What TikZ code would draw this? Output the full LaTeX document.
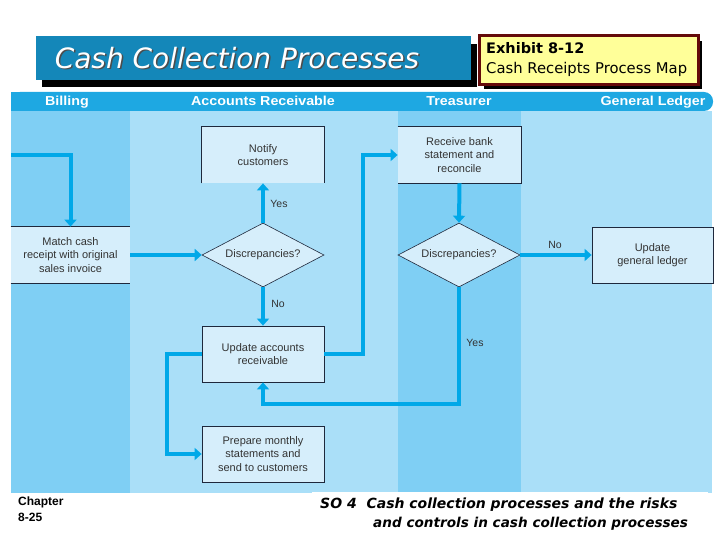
\documentclass[tikz,border=0pt]{standalone}
\usepackage{fontspec}
\setmainfont{Liberation Sans}
\newfontfamily\comicfont{DejaVu Sans}
\usetikzlibrary{shapes.geometric,arrows.meta}
\definecolor{titleblue}{RGB}{20,135,185}
\definecolor{headerblue}{RGB}{30,168,226}
\definecolor{lanedark}{RGB}{127,207,244}
\definecolor{lanelight}{RGB}{170,223,248}
\definecolor{boxfill}{RGB}{214,238,251}
\definecolor{flowblue}{RGB}{0,168,232}
\definecolor{exfill}{RGB}{255,255,153}
\definecolor{exborder}{RGB}{100,10,10}
\definecolor{boxline}{RGB}{30,40,60}
\tikzset{
  procbox/.style={rectangle, fill=boxfill, draw=boxline, line width=0.8pt,
    minimum width=122pt, minimum height=56pt, inner sep=0pt, align=center,
    font=\fontsize{11}{13.5}\selectfont, text=black!80},
  decbox/.style={diamond, fill=boxfill, draw=boxline, line width=0.6pt, aspect=2,
    minimum width=122pt, minimum height=64pt, inner sep=0pt,
    font=\fontsize{11}{13.5}\selectfont, text=black!80},
  boxedge/.style={boxline, line width=0.8pt},
  flow/.style={draw=flowblue, line width=4pt, -{Triangle[width=12pt,length=7pt]}},
  flowlabel/.style={font=\fontsize{10.5}{12}\selectfont, text=black!80, inner sep=0pt},
  lanehead/.style={font=\bfseries\fontsize{13}{14}\selectfont, text=white, inner sep=0pt, anchor=base, xscale=1.1},
}
\begin{document}
\begin{tikzpicture}[x=1pt,y=-1pt]
\useasboundingbox (0,0) rectangle (720,540);
\fill[white] (0,0) rectangle (720,540);
% title
\fill[black] (42,44) rectangle (477,87);
\fill[titleblue] (36,36) rectangle (471,80);
\node[font=\comicfont\itshape\fontsize{28}{30}\selectfont, text=black!70, inner sep=0pt] (titleshadow) at (238.5,59.5) {Cash Collection Processes};
\node[font=\comicfont\itshape\fontsize{28}{30}\selectfont, text=white, inner sep=0pt] (title) at (237,58) {Cash Collection Processes};
% exhibit box
\fill[black] (484,41) rectangle (702,89);
\draw[exborder, line width=3pt, fill=exfill] (479,36) rectangle (698,85);
\node[font=\comicfont\bfseries\fontsize{14.5}{16}\selectfont, anchor=west, inner sep=0pt] (exh) at (486,48) {Exhibit 8-12};
\node[font=\comicfont\fontsize{14.8}{16}\selectfont, anchor=west, inner sep=0pt] (exh2) at (486,69) {Cash Receipts Process Map};
% header bar
\fill[headerblue, rounded corners=9pt] (11,92) rectangle (713,111);
\fill[headerblue] (11,92) rectangle (40,111);
% lanes
\fill[lanedark] (11,111) rectangle (130,493);
\fill[lanelight] (130,111) rectangle (398,493);
\fill[lanedark] (398,111) rectangle (521,493);
\fill[lanelight] (521,111) rectangle (712,493);
\node[lanehead] (h1) at (67,106) {Billing};
\node[lanehead] (h2) at (263,106) {Accounts Receivable};
\node[lanehead] (h3) at (459,106) {Treasurer};
\node[lanehead] (h4) at (653,106) {General Ledger};
% boxes
\node[procbox, draw=none] (notify) at (263,155) {Notify\\customers};
\draw[boxedge] (notify.south west) -- (notify.north west) -- (notify.north east) -- (notify.south east);
\node[procbox, draw=none, minimum width=119pt] (match) at (70.5,255) {Match cash\\receipt with original\\sales invoice};
\draw[boxedge] (match.north west) -- (match.north east) (match.south west) -- (match.south east);
\node[decbox] (d1) at (263,255) {Discrepancies?};
\node[procbox] (uar) at (263,354) {Update accounts\\receivable};
\node[procbox] (prep) at (263,454) {Prepare monthly\\statements and\\send to customers};
\node[procbox, draw=none, minimum width=123pt] (rbank) at (459.5,155) {Receive bank\\statement and\\reconcile};
\draw[boxedge] (rbank.north west) -- (rbank.north east) -- (rbank.south east) -- (rbank.south west);
\node[decbox] (d2) at (459,255) {Discrepancies?};
\node[procbox, minimum width=121pt] (gl) at (652.5,255) {Update\\general ledger};
% connectors
\coordinate (start) at (11,155);
\draw[flow] (start) -| (match.north);
\draw[flow] (match.east) -- (d1.west);
\draw[flow] (d1.north) -- (notify.south);
\draw[flow] (d1.south) -- (uar.north);
\draw[flow] (uar.east) -- ++(39,0) |- (rbank.west);
\draw[flow] (rbank.south) -- (d2.north);
\draw[flow] (d2.east) -- (gl.west);
\draw[flow] (d2.south) -- ++(0,117) -| (uar.south);
\draw[flow] (uar.west) -- ++(-35,0) |- (prep.west);
% labels
\node[flowlabel] (yes1) at (279,204) {Yes};
\node[flowlabel] (no1) at (278,304) {No};
\node[flowlabel] (no2) at (555,245) {No};
\node[flowlabel] (yes2) at (475,343) {Yes};
% footer
\fill[white] (312,492) rectangle (708,540);
\node[font=\bfseries\fontsize{12}{14}\selectfont, anchor=west, inner sep=0pt] (chap) at (18,502) {Chapter};
\node[font=\bfseries\fontsize{12}{14}\selectfont, anchor=west, inner sep=0pt] (chapn) at (18,517) {8-25};
\node[font=\comicfont\bfseries\itshape\fontsize{14}{16}\selectfont, anchor=west, inner sep=0pt] (so1) at (320,505) {SO 4\ \ Cash collection processes and the risks};
\node[font=\comicfont\bfseries\itshape\fontsize{13.6}{16}\selectfont, anchor=west, inner sep=0pt] (so2) at (373,524) {and controls in cash collection processes};
\end{tikzpicture}
\end{document}
